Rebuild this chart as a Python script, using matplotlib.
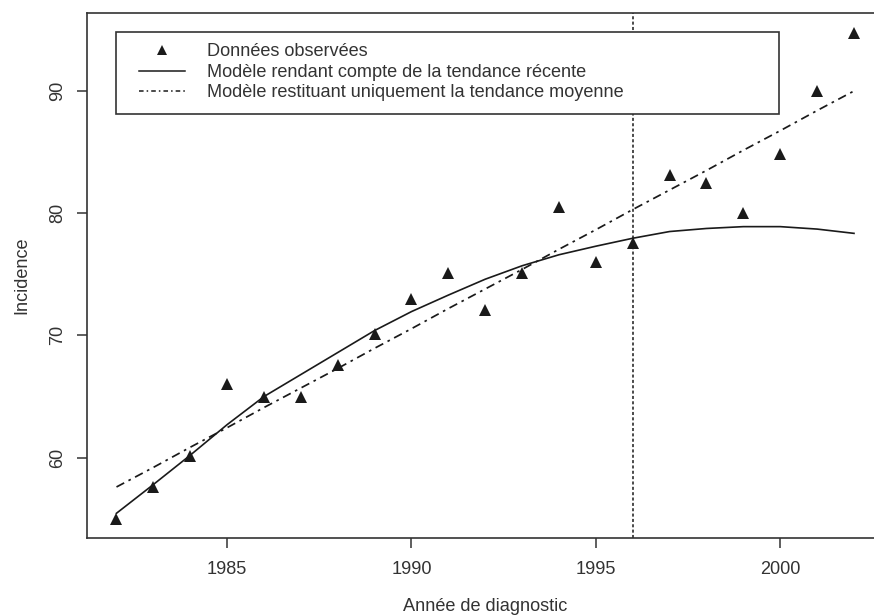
import matplotlib
matplotlib.use("Agg")
import matplotlib.pyplot as plt
from matplotlib.lines import Line2D
from matplotlib.patches import Rectangle

plt.rcParams['font.family'] = ['Liberation Sans', 'DejaVu Sans']

# données
annees = [1982, 1983, 1984, 1985, 1986, 1987, 1988, 1989, 1990, 1991, 1992,
          1993, 1994, 1995, 1996, 1997, 1998, 1999, 2000, 2001, 2002]
observees = [55.0, 57.6, 60.1, 66.0, 65.0, 65.0, 67.6, 70.1, 73.0, 75.1, 72.1,
             75.1, 80.5, 76.0, 77.55, 83.1, 82.5, 80.05, 84.85, 90.0, 94.75]
tendance_recente = [55.45, 57.8, 60.2, 62.7, 65.0, 66.8, 68.6, 70.4, 71.95, 73.3, 74.6,
                    75.7, 76.6, 77.3, 77.95, 78.5, 78.75, 78.9, 78.9, 78.7, 78.35]
tendance_moyenne = [57.6, 59.2, 60.85, 62.45, 64.1, 65.7, 67.3, 68.95, 70.55, 72.2, 73.8,
                    75.4, 77.05, 78.65, 80.3, 81.9, 83.5, 85.15, 86.75, 88.4, 90.0]
annee_coupure = 1996
xticks = [1985, 1990, 1995, 2000]
yticks = [60, 70, 80, 90]
legende = ["Données observées",
           "Modèle rendant compte de la tendance récente",
           "Modèle restituant uniquement la tendance moyenne"]

noir = '#1a1a1a'
gris = '#333333'
taille = 13.1

fig = plt.figure(figsize=(8.74, 6.15), dpi=100)
ax = fig.add_axes([87/874, 1 - 538.3/615, 796.5/874, 525.3/615])

ax.plot(annees, observees, linestyle='none', marker='^', markersize=8,
        color=noir, markeredgewidth=0)
ax.plot(annees, tendance_recente, '-', color=noir, lw=1.2)
ax.plot(annees, tendance_moyenne, color=noir, lw=1.25, dashes=(5, 2.8, 1.5, 2.8))
ax.axvline(annee_coupure, color=noir, lw=1.1, dashes=(2, 1.5))

ax.set_xlim(1981.2, 2002.8)
ax.set_ylim(53.4, 96.38)
ax.set_xticks(xticks)
ax.set_yticks(yticks)
ax.set_yticklabels([str(v) for v in yticks], rotation=90, va='center')

for s in ax.spines.values():
    s.set_color(gris)
    s.set_linewidth(1.2)
ax.tick_params(length=7, width=1.1, color=gris, labelcolor=gris, labelsize=taille)
ax.tick_params(axis='x', pad=9)
ax.tick_params(axis='y', pad=8)

ax.set_xlabel("Année de diagnostic", fontsize=taille, color=gris, va='center')
ax.xaxis.set_label_coords(0.5, -0.130)
ax.set_ylabel("Incidence", fontsize=taille, color=gris, va='center')
ax.yaxis.set_label_coords(-0.082, 0.5)

# cadre de la légende (style R)
ax.add_patch(Rectangle((0.036, 0.8072), 0.8328, 0.1572, transform=ax.transAxes,
                       facecolor='white', edgecolor=gris, lw=1.2, zorder=4))

poignees = [
    Line2D([], [], linestyle='none', marker='^', markersize=7, color=noir, markeredgewidth=0),
    Line2D([], [], color=noir, lw=1.1),
    Line2D([], [], color=noir, lw=1.1, dashes=(3, 2, 1, 2)),
]
leg = ax.legend(poignees, legende, loc='upper left',
                bbox_to_anchor=(0.0653, 0.9420), frameon=False,
                fontsize=taille, handlelength=2.53, handletextpad=1.21,
                labelspacing=0.19, borderpad=0, borderaxespad=0)
leg.set_zorder(5)
for t in leg.get_texts():
    t.set_color(gris)

fig.savefig("out.png", dpi=100)
